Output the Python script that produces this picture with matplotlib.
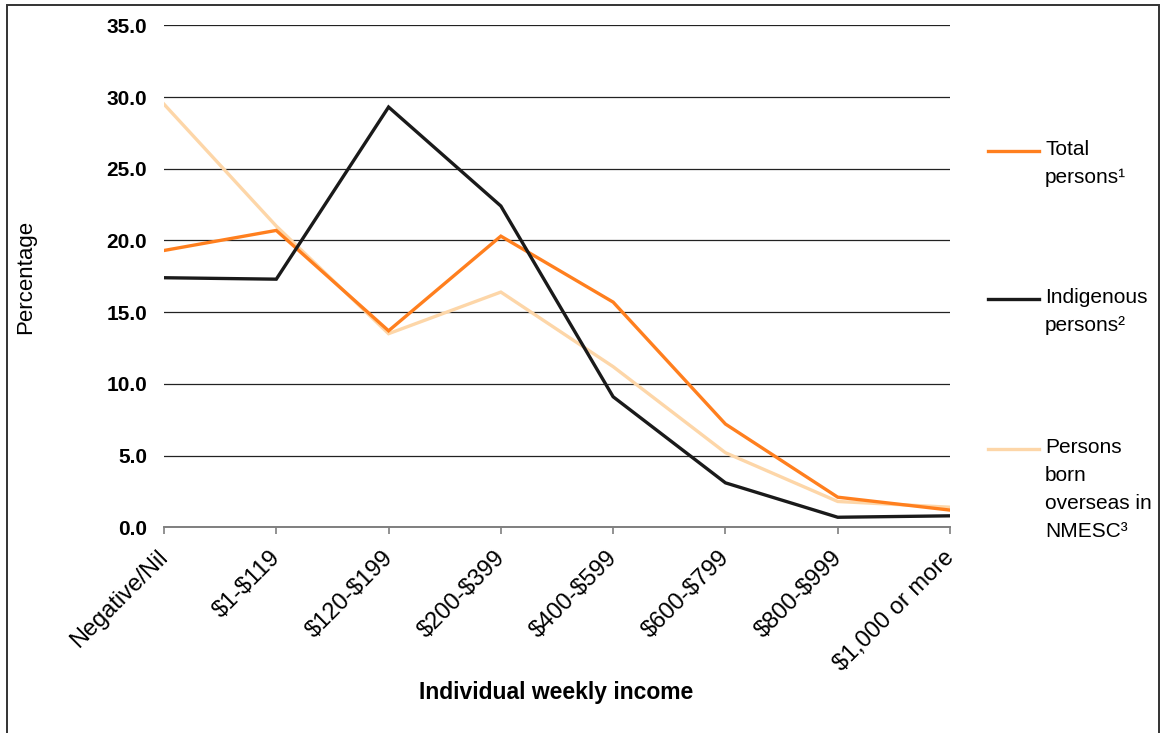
import matplotlib
matplotlib.use("Agg")
import matplotlib.pyplot as plt
from matplotlib.lines import Line2D
from matplotlib.patches import Rectangle
from matplotlib.transforms import ScaledTranslation

plt.rcParams['font.family'] = ['Liberation Sans', 'DejaVu Sans']
plt.rcParams['text.parse_math'] = False

# Individual weekly income brackets
categories = ["Negative/Nil", "$1-$119", "$120-$199", "$200-$399",
              "$400-$599", "$600-$799", "$800-$999", "$1,000 or more"]

# Percentage of persons in each bracket
total_persons = [19.3, 20.7, 13.7, 20.3, 15.7, 7.2, 2.1, 1.2]
indigenous_persons = [17.4, 17.3, 29.3, 22.4, 9.1, 3.1, 0.7, 0.8]
overseas_nmesc = [29.5, 21.0, 13.5, 16.4, 11.2, 5.2, 1.8, 1.4]

series_labels = ["Total\npersons\u00b9", "Indigenous\npersons\u00b2",
                 "Persons\nborn\noverseas in\nNMESC\u00b3"]
series_colors = ["#FF7F1E", "#1A1A1A", "#FDD6A8"]

y_ticks = [0, 5, 10, 15, 20, 25, 30, 35]

W, H = 1165, 733
fig = plt.figure(figsize=(W / 100, H / 100), dpi=100)
fig.patch.set_facecolor("white")

ax = fig.add_axes([164 / W, 1 - 527.3 / H, (950 - 164) / W, (527.3 - 25.3) / H])

x = list(range(len(categories)))
series = [total_persons, indigenous_persons, overseas_nmesc]
# draw back-to-front so the lighter series sits beneath
for vals, col, z in zip(series, series_colors, [3, 4, 2]):
    ax.plot(x, vals, color=col, lw=2.4, solid_joinstyle="miter", zorder=z)

ax.set_xlim(0, len(categories) - 1)
ax.set_ylim(0, 35)
ax.set_yticks(y_ticks)
ax.set_yticklabels([f"{v:.1f}" for v in y_ticks], fontsize=15, fontweight="bold")
ax.yaxis.grid(True, color="#222222", lw=0.9)
ax.set_axisbelow(True)
ax.tick_params(axis="y", length=0, pad=12)

ax.set_xticks(x)
ax.set_xticklabels(categories, fontsize=17, rotation=45, ha="right",
                   va="top", rotation_mode="anchor")
ax.tick_params(axis="x", length=5, width=1.2, color="#7F7F7F", pad=6)
# nudge the slanted labels so their ends sit just left of each tick
shift = ScaledTranslation(-7 / 100, -4 / 100, fig.dpi_scale_trans)
for lab in ax.get_xticklabels():
    lab.set_transform(lab.get_transform() + shift)

for s in ["left", "right", "top"]:
    ax.spines[s].set_visible(False)
ax.spines["bottom"].set_color("#7F7F7F")
ax.spines["bottom"].set_linewidth(1.4)
ax.spines["bottom"].set_zorder(5)

ax.set_ylabel("Percentage", fontsize=16)
ax.yaxis.set_label_coords(36 / W, 1 - 277 / H, transform=fig.transFigure)

fig.text(556 / W, 1 - 692 / H, "Individual weekly income", fontsize=16.5,
         fontweight="bold", ha="center", va="center")

# legend drawn beside the plot area
legend_y = [151, 299, 449]
for lbl, col, ly in zip(series_labels, series_colors, legend_y):
    fig.add_artist(Line2D([988 / W, 1039 / W], [1 - ly / H, 1 - ly / H],
                          color=col, lw=2.4, transform=fig.transFigure))
    fig.text(1045 / W, 1 - (ly - 11) / H, lbl, fontsize=15, ha="left",
             va="top", linespacing=1.6)

# outer frame
fig.add_artist(Rectangle((7 / W, -0.02), (1159 - 7) / W, 1.02 - 5 / H,
                         transform=fig.transFigure, fill=False,
                         edgecolor="#333333", lw=1.4))

fig.savefig("out.png", dpi=100)
